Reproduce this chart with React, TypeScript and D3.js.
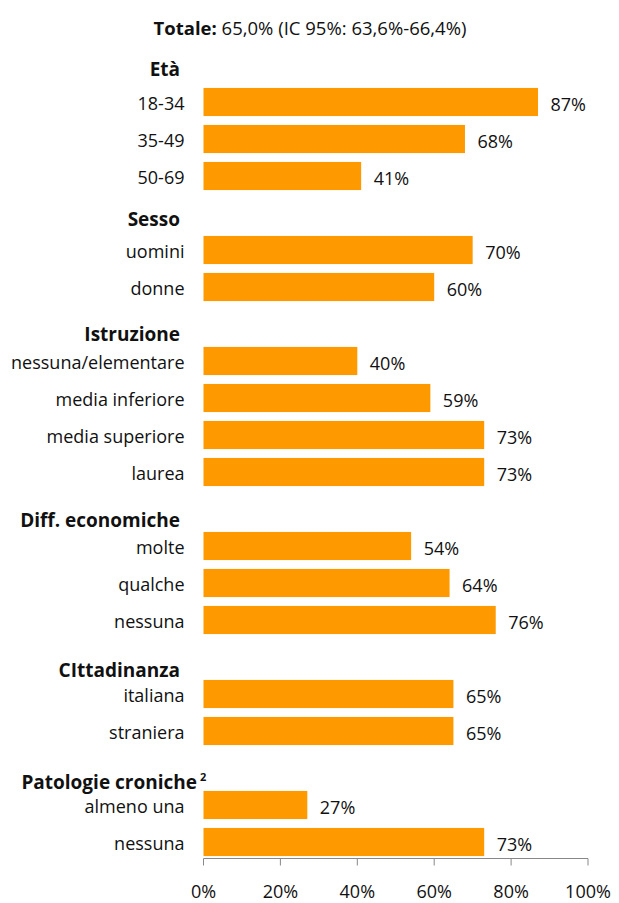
import React from "react";
import * as d3 from "d3";

const categories = [
  "18-34", "35-49", "50-69",
  "uomini", "donne",
  "nessuna/elementare", "media inferiore", "media superiore", "laurea",
  "molte", "qualche", "nessuna",
  "italiana", "straniera",
  "almeno una", "nessuna",
];
const values = [87, 68, 41, 70, 60, 40, 59, 73, 73, 54, 64, 76, 65, 65, 27, 73];
const groupTitles = ["Età", "Sesso", "Istruzione", "Diff. economiche", "CIttadinanza", "Patologie croniche"];
const groupSizes = [3, 2, 4, 3, 2, 2];
const ticks = [0, 20, 40, 60, 80, 100];
const titleBold = "Totale:";
const titleRest = " 65,0% (IC 95%: 63,6%-66,4%)";

// layout only: header nudges (px) below the header slot centre
const headerNudge = [4, 6, 10, 11, 13, 14];

const W = 619, H = 903;
const FONT = "'Open Sans', sans-serif";
const FS = 18;
const FSH = 19;

export default function App() {
  const slots: { key: string; cat?: string; value?: number; group?: number }[] = [];
  const headerSlots: { title: string; slotKey: string; g: number }[] = [];
  let ci = 0;
  groupTitles.forEach((t, g) => {
    const key = `gap-${g}`;
    slots.push({ key });
    headerSlots.push({ title: t, slotKey: key, g });
    for (let k = 0; k < groupSizes[g]; k++) {
      slots.push({ key: `c-${ci}`, cat: categories[ci], value: values[ci], group: g });
      ci++;
    }
  });

  const y = d3.scaleBand<string>().domain(slots.map((s) => s.key)).range([46.5, 860.5]).paddingInner(0.24).paddingOuter(0.12);
  const x = d3.scaleLinear().domain([0, 100]).range([203.5, 588]);
  const axisY = 858.5;
  const lastG = groupTitles.length - 1;

  return (
    <svg width={W} height={H} style={{ position: "absolute", left: 0, top: 0, background: "#fff" }} fontFamily={FONT}>
      <text x={310} y={27} textAnchor="middle" dominantBaseline="central" fontSize={18.5} fill="#111">
        <tspan fontWeight="bold">{titleBold}</tspan>
        <tspan>{titleRest}</tspan>
      </text>
      {headerSlots.map((h) => {
        const cy = (y(h.slotKey) as number) + y.bandwidth() / 2 + headerNudge[h.g];
        const isLast = h.g === lastG;
        return (
          <g key={h.slotKey}>
            <text x={isLast ? 197 : 180} y={cy} textAnchor="end" dominantBaseline="central" fontSize={FSH} fontWeight="bold" fill="#111">
              {h.title}
            </text>
            {isLast ? (
              <text x={200} y={cy - 6} dominantBaseline="central" fontSize={11} fontWeight="bold" fill="#111">2</text>
            ) : null}
          </g>
        );
      })}
      {slots.filter((s) => s.cat !== undefined).map((s) => {
        const top = y(s.key) as number;
        const cy = top + y.bandwidth() / 2;
        return (
          <g key={s.key}>
            <rect x={x(0)} y={top} width={x(s.value as number) - x(0)} height={y.bandwidth()} fill="#FF9900" />
            <text x={184.5} y={cy + 1} textAnchor="end" dominantBaseline="central" fontSize={FS} fill="#111">{s.cat}</text>
            <text x={x(s.value as number) + 12.5} y={cy + 2} dominantBaseline="central" fontSize={FS} fill="#111">{`${s.value}%`}</text>
          </g>
        );
      })}
      <line x1={x(0)} x2={x(100)} y1={axisY} y2={axisY} stroke="#888" strokeWidth={1} />
      {ticks.map((t) => (
        <g key={t}>
          <line x1={x(t)} x2={x(t)} y1={axisY} y2={axisY + 7} stroke="#888" strokeWidth={1} />
          <text x={x(t)} y={891} textAnchor="middle" dominantBaseline="central" fontSize={FS} fill="#111">{`${t}%`}</text>
        </g>
      ))}
    </svg>
  );
}
